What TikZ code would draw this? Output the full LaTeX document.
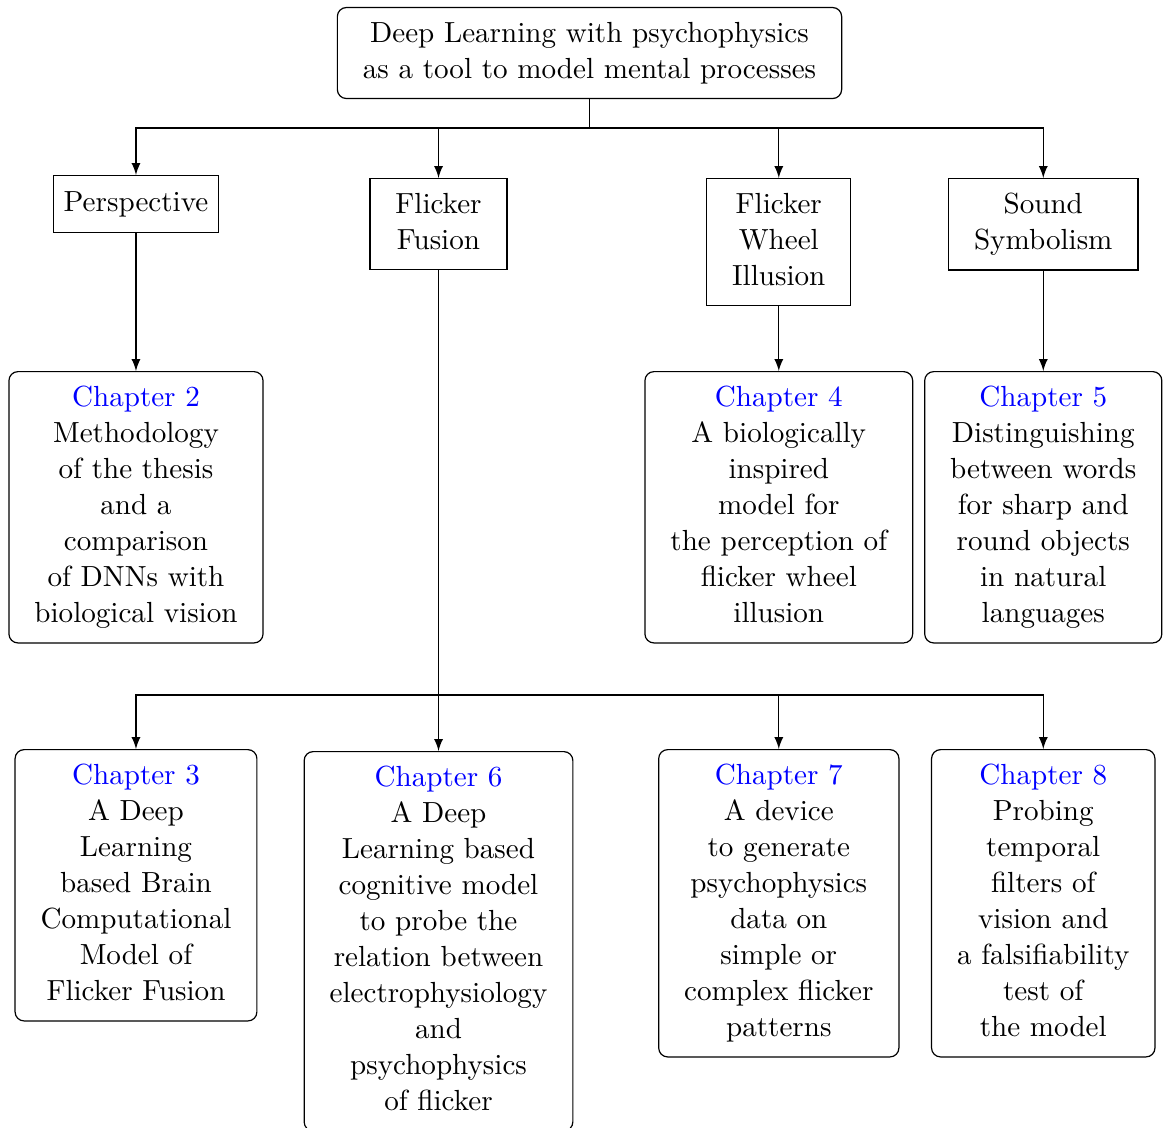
\documentclass[tikz,border=0pt]{standalone}
\usepackage{fontspec}
\usetikzlibrary{positioning, calc, arrows.meta}
\tikzset{
    topic/.style={rectangle, draw, align=center, inner xsep=8.5pt, inner ysep=4.8pt,
        execute at end node={\vphantom{g}}},
    chapter/.style={topic, rounded corners=3pt},
    conn/.style={-latex},
}
\newcommand{\chaplabel}[1]{\textcolor{blue}{Chapter #1}}

\begin{document}
\begin{tikzpicture}[x=1pt, y=1pt, font=\fontsize{9.7}{12}\selectfont]
    \useasboundingbox (0,0) rectangle (388,-375.67);

    % 1. Thesis title
    \node[chapter] (root) at (196.5,-17.67)
        {Deep Learning with psychophysics\\as a tool to model mental processes};

    % 2. Topics
    \node[topic, anchor=north, inner xsep=3.33pt, inner ysep=5.2pt] (persp) at (45.33,-58.33) {Perspective};
    \node[topic, anchor=north] (fusion) at (146.17,-59.33) {Flicker\\Fusion};
    \node[topic, anchor=north] (wheel) at (259.6,-59.33) {Flicker\\Wheel\\Illusion};
    \node[topic, anchor=north] (sound) at (347.75,-59.33) {Sound\\Symbolism};

    % 3. Chapters, first row
    \node[chapter, anchor=north] (ch2) at (45.33,-123.67)
        {\chaplabel{2}\\Methodology\\of the thesis\\and a\\comparison\\of DNNs with\\biological vision};
    \node[chapter, anchor=north] (ch4) at (259.6,-123.67)
        {\chaplabel{4}\\A biologically\\inspired\\model for\\the perception of\\flicker wheel\\illusion};
    \node[chapter, anchor=north] (ch5) at (347.75,-123.67)
        {\chaplabel{5}\\Distinguishing\\between words\\for sharp and\\round objects\\in natural\\languages};

    % 4. Chapters on flicker fusion
    \node[chapter, anchor=north] (ch3) at (45.33,-249.67)
        {\chaplabel{3}\\A Deep\\Learning\\based Brain\\Computational\\Model of\\Flicker Fusion};
    \node[chapter, anchor=north] (ch6) at (146.17,-250.33)
        {\chaplabel{6}\\A Deep\\Learning based\\cognitive model\\to probe the\\relation between\\electrophysiology\\and\\psychophysics\\of flicker};
    \node[chapter, anchor=north] (ch7) at (259.6,-249.67)
        {\chaplabel{7}\\A device\\to generate\\psychophysics\\data on\\simple or\\complex flicker\\patterns};
    \node[chapter, anchor=north] (ch8) at (347.75,-249.67)
        {\chaplabel{8}\\Probing\\temporal\\filters of\\vision and\\a falsifiability\\test of\\the model};

    % 5. Connectors
    \coordinate (bus1) at (196.5,-42.67);
    \draw (root.south) -- (bus1);
    \foreach \t in {persp, fusion, wheel, sound}
        \draw[conn] (bus1) -| (\t.north);

    \draw[conn] (persp.south) -- (ch2.north);
    \draw[conn] (wheel.south) -- (ch4.north);
    \draw[conn] (sound.south) -- (ch5.north);

    \coordinate (bus2) at (146.17,-231.67);
    \draw (fusion.south) -- (bus2);
    \foreach \c in {ch3, ch6, ch7, ch8}
        \draw[conn] (bus2) -| (\c.north);
\end{tikzpicture}
\end{document}
